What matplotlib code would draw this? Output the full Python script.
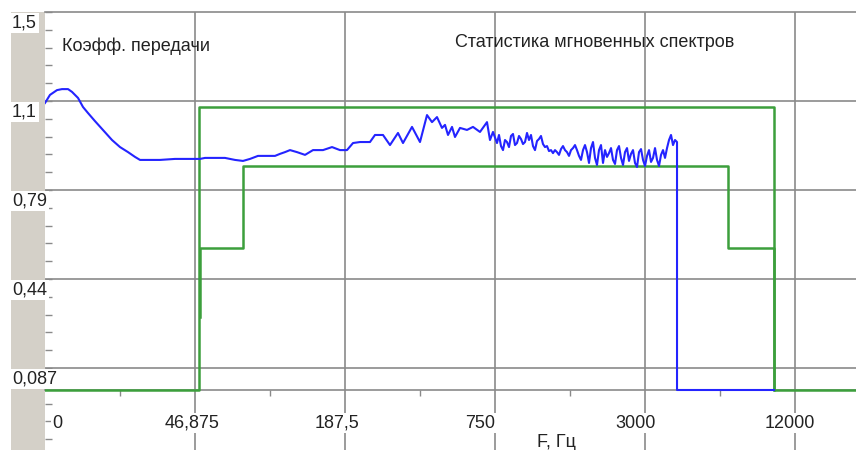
import numpy as np
import matplotlib
matplotlib.use('Agg')
import matplotlib.pyplot as plt
from matplotlib import transforms
from matplotlib.patches import Rectangle
from matplotlib.ticker import NullLocator

plt.rcParams['font.family'] = ['Liberation Sans', 'DejaVu Sans']
plt.rcParams['font.size'] = 13

# Transfer coefficient vs frequency (Hz)
blue_freq = [11.72, 12.27, 13.09, 13.71, 14.50, 15.04, 15.90, 16.65, 17.44, 18.60,
             20.03, 21.77, 23.44, 25.24, 26.92, 28.20, 30.93, 33.92, 38.97, 44.76,
             49.09, 51.41, 56.39, 61.85, 67.84, 73.05, 77.93, 83.91, 89.52, 98.2,
             102.8, 107.7, 112.8, 120.3, 129.6, 139.5, 153.0, 166.3, 179.0, 191.0,
             201.9, 215.4, 236.2, 247.4, 266.4, 284.2, 306.0, 320.5, 348.3, 375.0,
             400.1, 419.0, 438.8, 459.5, 472.5, 485.8, 504.1, 518.2, 542.7, 579.0,
             612.0, 652.9, 696.6, 716.1, 736.3,
             764.0, 778.3, 792.8, 807.6, 822.7, 838.0, 853.7, 869.6, 885.8, 902.3,
             919.1, 936.3, 953.8, 971.6, 989.7, 1008.2, 1027.0, 1046.1, 1065.6, 1085.5,
             1105.8, 1126.4, 1147.4, 1168.8, 1190.6, 1212.8, 1235.5, 1258.5, 1282.0, 1305.9,
             1330.3, 1355.1, 1380.4, 1406.1, 1432.4, 1459.1, 1486.3, 1514.1, 1542.3, 1571.1,
             1600.4, 1630.3, 1660.7, 1691.7, 1723.2, 1755.4, 1788.1, 1821.5, 1855.5, 1890.1,
             1925.4, 1961.3, 1997.9, 2035.2, 2073.2, 2111.9, 2151.3, 2191.4, 2232.3, 2274.0,
             2316.4, 2359.6, 2403.7, 2448.5, 2494.2, 2540.7, 2588.1, 2636.4, 2685.6, 2735.8,
             2786.8, 2838.8, 2891.8, 2945.7, 3000.7, 3056.7, 3113.7, 3171.8, 3231.0, 3291.3,
             3352.7, 3415.3, 3479.0, 3543.9, 3610.0, 3677.4, 3746.0, 3815.9, 3887.1, 3959.6,
             4033.5, 4033.5, 9880]
blue_vals = [1.139, 1.171, 1.190, 1.194, 1.194, 1.183, 1.159, 1.123, 1.099, 1.067,
             1.032, 0.992, 0.964, 0.944, 0.925, 0.913, 0.913, 0.913, 0.917, 0.917,
             0.917, 0.921, 0.921, 0.921, 0.913, 0.909, 0.917, 0.929, 0.929, 0.929,
             0.937, 0.944, 0.952, 0.944, 0.933, 0.952, 0.952, 0.964, 0.952, 0.952,
             0.980, 0.984, 0.984, 1.012, 1.012, 0.972, 1.020, 0.980, 1.044, 0.984,
             1.091, 1.063, 1.083, 1.040, 1.052, 1.012, 1.044, 1.004, 1.040, 1.032,
             1.044, 1.024, 1.063, 0.992, 1.024,
             0.980, 1.012, 0.968, 0.952, 0.992, 0.984, 0.964, 1.008, 1.016, 0.972,
             0.980, 1.008, 0.996, 0.976, 0.984, 1.020, 0.992, 1.012, 0.968, 0.952,
             0.988, 0.996, 1.008, 0.976, 0.964, 0.968, 0.948, 0.952, 0.940, 0.952,
             0.944, 0.933, 0.956, 0.968, 0.952, 0.944, 0.929, 0.952, 0.960, 0.972,
             0.952, 0.929, 0.913, 0.952, 0.972, 0.944, 0.901, 0.960, 0.984, 0.921,
             0.893, 0.952, 0.972, 0.901, 0.952, 0.925, 0.940, 0.960, 0.913, 0.897,
             0.952, 0.968, 0.921, 0.893, 0.944, 0.960, 0.909, 0.937, 0.952, 0.901,
             0.885, 0.944, 0.956, 0.913, 0.889, 0.929, 0.952, 0.905, 0.921, 0.960,
             0.913, 0.889, 0.933, 0.952, 0.921, 0.960, 0.992, 1.012, 0.972, 0.992,
             0.984, 0.0, 0.0]

# Statistics bounds (outer and inner masks)
outer_freq = [11.72, 48.6, 48.6, 9880, 9880, 21090]
outer_vals = [0.0, 0.0, 1.123, 1.123, 0.0, 0.0]
inner_freq = [48.9, 48.9, 73.0, 73.0, 6460, 6460, 9880, 9880]
inner_vals = [0.29, 0.563, 0.563, 0.889, 0.889, 0.563, 0.563, 0.0]

y_grid = [0.087, 0.4403, 0.7937, 1.147, 1.5]
y_labels = ['0,087', '0,44', '0,79', '1,1', '1,5']
x_grid = [46.875, 187.5, 750, 3000, 12000]
x_labels = ['46,875', '187,5', '750', '3000', '12000']
x_minor = [23.4375, 93.75, 375, 1500, 6000]

W, H = 856, 450
grid_c = '#8a8a8a'
text_c = '#222222'

fig = plt.figure(figsize=(W / 100, H / 100), dpi=100)
fig.patch.set_facecolor('white')
fig.patches.append(Rectangle((11 / W, 0), 34 / W, 438 / H, transform=fig.transFigure,
                             facecolor='#d4d0c8', edgecolor='none', zorder=-1))

ax = fig.add_axes([45 / W, 0, 811 / W, 438 / H])
ax.set_xscale('log')
ax.set_xlim(11.71875, 21090)
ax.set_ylim(-0.2381, 1.5)

for f in x_grid:
    ax.axvline(f, color=grid_c, lw=1.2, zorder=1)
for v in y_grid[:-1]:
    ax.axhline(v, color=grid_c, lw=1.2, zorder=1)

ax.plot(outer_freq, outer_vals, color='#3c9f3c', lw=1.8, zorder=6)
ax.plot(inner_freq, inner_vals, color='#3c9f3c', lw=1.8, zorder=6)
ax.plot(blue_freq, blue_vals, color='#2424ff', lw=1.5, zorder=7)

# frame
for s in ['left', 'right']:
    ax.spines[s].set_visible(False)
ax.spines['top'].set_color(grid_c)
ax.spines['top'].set_linewidth(1.2)
ax.spines['bottom'].set_position(('data', 0))
ax.spines['bottom'].set_color(grid_c)
ax.spines['bottom'].set_linewidth(1.2)

ax.xaxis.set_minor_locator(NullLocator())
ax.set_xticks(x_minor)
ax.tick_params(axis='x', direction='out', length=4, width=1, color=grid_c, labelbottom=False)
ax.set_yticks(np.arange(0.087 - 4 * 0.07065, 1.51, 0.07065))
ax.tick_params(axis='y', direction='in', length=5, width=1, color=grid_c, labelleft=False)

# y labels sit in the grey strip, just under their grid line
trans = transforms.blended_transform_factory(fig.transFigure, ax.transData)
for v, lbl in zip(y_grid, y_labels):
    ax.annotate(lbl, xy=(12 / W, v), xycoords=trans, xytext=(0, -11), textcoords='offset pixels',
                ha='left', va='center', color=text_c, annotation_clip=False, clip_on=False,
                zorder=5, bbox=dict(facecolor='white', edgecolor='none', pad=1.2))

ax.annotate('0', xy=(11.71875, -0.131), xytext=(7, 0), textcoords='offset pixels',
            ha='left', va='center', color=text_c, zorder=5,
            bbox=dict(facecolor='white', edgecolor='none', pad=1))
for f, lbl in zip(x_grid, x_labels):
    ax.annotate(lbl, xy=(f, -0.131), xytext=(-30, 0), textcoords='offset pixels',
                ha='left', va='center', color=text_c, zorder=5,
                bbox=dict(facecolor='white', edgecolor='none', pad=1))

fig.text(537 / W, 16 / H, 'F, Гц', ha='left', va='top', color=text_c)

ax.text(0.021, 0.922, 'Коэфф. передачи', transform=ax.transAxes, va='center', color=text_c)
ax.text(0.5055, 0.9315, 'Статистика мгновенных спектров', transform=ax.transAxes,
        va='center', color=text_c)

fig.savefig('out.png', dpi=100)
